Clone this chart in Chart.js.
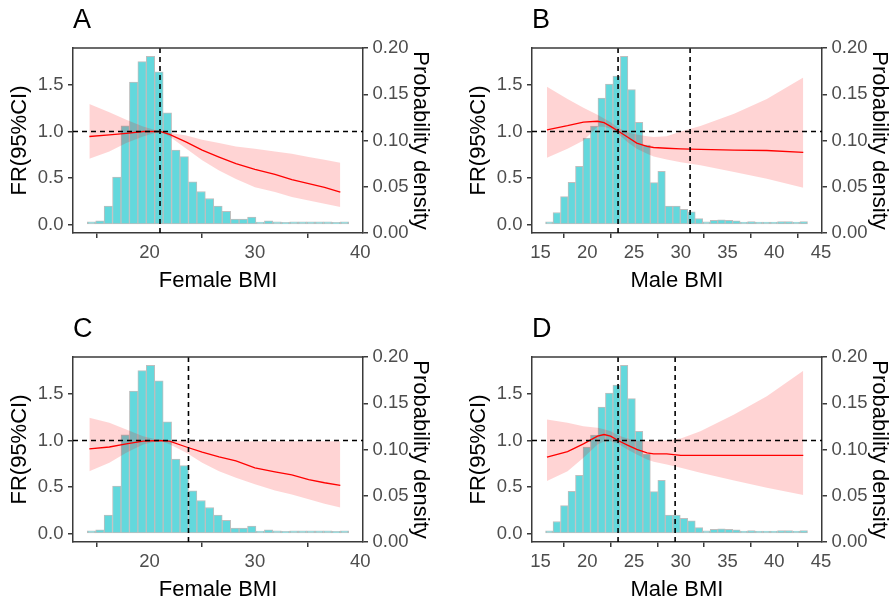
<!DOCTYPE html>
<html>
<head>
<meta charset="utf-8">
<script src="https://cdn.jsdelivr.net/npm/chart.js@4.4.1/dist/chart.umd.min.js"></script>
<style>
  html, body { margin: 0; padding: 0; background: #fff; overflow: hidden; }
  #wrap { position: relative; width: 890px; height: 603px; overflow: hidden; }
  canvas { position: absolute; }
</style>
</head>
<body>
<div id="wrap">
  <canvas id="panelA" width="445" height="300" style="left:0px;top:0px"></canvas>
  <canvas id="panelB" width="445" height="300" style="left:459px;top:0px"></canvas>
  <canvas id="panelC" width="445" height="300" style="left:0px;top:309px"></canvas>
  <canvas id="panelD" width="445" height="300" style="left:459px;top:309px"></canvas>
</div>
<script>
// histogram bins (bin centres) and bar heights read on the FR scale
var femaleBins = [14.5, 15.3, 16.1, 16.9, 17.7, 18.5, 19.3, 20.1, 20.9, 21.7, 22.5, 23.3, 24.1, 24.9, 25.7, 26.5,
                  27.3, 28.1, 28.9, 29.7, 30.5, 31.3, 32.1, 32.9, 33.7, 34.5, 35.3, 36.1, 36.9, 37.7, 38.5];
var femaleHist = [0.03, 0.04, 0.20, 0.51, 1.06, 1.53, 1.75, 1.806, 1.64, 1.20, 0.80, 0.73, 0.46, 0.355, 0.28, 0.20,
                  0.143, 0.06, 0.06, 0.082, 0.028, 0.04, 0.03, 0.025, 0.03, 0.03, 0.03, 0.03, 0.03, 0.025, 0.03];

var maleBins = [15.95, 16.75, 17.55, 18.35, 19.15, 19.95, 20.75, 21.55, 22.35, 23.15, 23.95, 24.75, 25.55, 26.35,
                27.15, 27.95, 28.75, 29.55, 30.35, 31.15, 31.95, 32.75, 33.55, 34.35, 35.15, 35.95, 36.75, 37.55,
                38.35, 39.15, 39.95, 40.75, 41.55, 42.35, 43.15];
var maleHist = [0.03, 0.13, 0.30, 0.455, 0.627, 0.93, 1.057, 1.36, 1.51, 1.595, 1.806, 1.45, 1.097, 0.853,
                0.45, 0.573, 0.20, 0.20, 0.165, 0.136, 0.064, 0.03, 0.045, 0.05, 0.045, 0.04, 0.028, 0.032,
                0.028, 0.028, 0.028, 0.032, 0.032, 0.028, 0.032];

// FR curves with 95% CI
var femaleX = [14.3, 16.2, 17.8, 19.4, 21.0, 21.9, 23.5, 25.0, 26.6, 28.2, 30.0, 31.9, 33.5, 35.1, 36.6, 38.1];
var frA = [0.946, 0.964, 0.98, 1.0, 1.0, 0.968, 0.886, 0.80, 0.725, 0.654, 0.593, 0.54, 0.482, 0.44, 0.40, 0.35];
var hiA = [1.296, 1.207, 1.125, 1.054, 1.0, 0.986, 0.957, 0.91, 0.875, 0.84, 0.814, 0.786, 0.76, 0.725, 0.696, 0.664];
var loA = [0.707, 0.786, 0.875, 0.946, 1.0, 0.946, 0.814, 0.69, 0.582, 0.49, 0.40, 0.35, 0.296, 0.26, 0.225, 0.19];

var frC = [0.91, 0.93, 0.964, 0.993, 1.0, 0.993, 0.93, 0.875, 0.825, 0.78, 0.707, 0.664, 0.63, 0.58, 0.546, 0.518];
var hiC = [1.243, 1.19, 1.118, 1.046, 1.0, 1.0, 0.996, 0.993, 0.993, 0.993, 0.993, 0.993, 0.993, 0.993, 0.993, 0.993];
var loC = [0.67, 0.76, 0.868, 0.957, 1.0, 0.96, 0.868, 0.76, 0.67, 0.60, 0.53, 0.464, 0.42, 0.368, 0.32, 0.28];

var maleX = [15.7, 17.9, 19.6, 21.1, 21.8, 22.5, 23.3, 24.3, 25.3, 26.4, 27.1, 28.5, 30.0, 32.1, 35.7, 39.2, 43.1];
var frB = [1.018, 1.062, 1.10, 1.11, 1.095, 1.055, 1.005, 0.94, 0.875, 0.84, 0.828, 0.82, 0.814, 0.807, 0.80, 0.796, 0.775];
var hiB = [1.48, 1.35, 1.254, 1.18, 1.14, 1.10, 1.04, 0.993, 0.968, 0.95, 0.94, 0.95, 1.0, 1.06, 1.19, 1.35, 1.58];
var loB = [0.718, 0.814, 0.904, 1.05, 1.05, 1.03, 0.975, 0.886, 0.814, 0.76, 0.732, 0.70, 0.67, 0.636, 0.564, 0.493, 0.396];

var frD = [0.82, 0.88, 0.964, 1.046, 1.064, 1.046, 1.0, 0.95, 0.904, 0.868, 0.857, 0.857, 0.84, 0.84, 0.84, 0.84, 0.84];
var hiD = [1.225, 1.19, 1.154, 1.136, 1.12, 1.10, 1.057, 1.02, 1.0, 0.993, 0.993, 1.0, 1.02, 1.10, 1.28, 1.475, 1.75];
var loD = [0.564, 0.67, 0.814, 0.957, 0.99, 0.993, 0.964, 0.904, 0.85, 0.796, 0.771, 0.743, 0.707, 0.654, 0.571, 0.493, 0.414];

// dashed reference lines
var refFR = 1.0;
var cutA = [21.0];
var cutB = [23.3, 31.0];
var cutC = [23.7];
var cutD = [23.3, 29.4];

var frMin = -0.0903, frMax = 1.8966;
var densMin = 0, densMax = 0.2;

var axisColor = '#3a3a3a';
var tickColor = '#4D4D4D';
var fontFamily = '"Liberation Sans", Arial, sans-serif';

function pts(xs, ys) {
  return xs.map(function (x, i) { return { x: x, y: ys[i] }; });
}

var topBorder = {
  id: 'topBorder',
  afterDraw: function (chart) {
    var a = chart.chartArea, ctx = chart.ctx;
    ctx.save();
    ctx.strokeStyle = axisColor;
    ctx.lineWidth = 1.5;
    ctx.beginPath();
    ctx.moveTo(a.left - 0.75, a.top);
    ctx.lineTo(a.right + 0.75, a.top);
    ctx.stroke();
    ctx.restore();
  }
};

function axisBase() {
  return {
    grid: { display: true, drawOnChartArea: false, drawTicks: true, tickLength: 5, color: axisColor, lineWidth: 1.5 },
    border: { display: true, color: axisColor, width: 1.5 }
  };
}

function makePanel(id, letter, xTitle, xMin, xMax, xStep, bins, hist, xs, fr, lo, hi, cuts) {
  var datasets = [];

  datasets.push({
    type: 'line', data: [{ x: xMin, y: refFR }, { x: xMax, y: refFR }],
    borderColor: '#000', borderWidth: 1.6, borderDash: [5, 4], pointRadius: 0, fill: false, order: 0
  });
  cuts.forEach(function (c) {
    datasets.push({
      type: 'line', data: [{ x: c, y: frMin }, { x: c, y: frMax }],
      borderColor: '#000', borderWidth: 1.6, borderDash: [5, 4], pointRadius: 0, fill: false, order: 1
    });
  });
  datasets.push({
    type: 'line', data: pts(xs, fr), borderColor: '#FF0000', borderWidth: 1.3,
    pointRadius: 0, fill: false, order: 2
  });
  datasets.push({
    type: 'line', data: pts(xs, hi), borderWidth: 0, borderColor: 'rgba(0,0,0,0)',
    backgroundColor: 'rgba(255,0,0,0.17)', pointRadius: 0, fill: '+1', order: 3
  });
  datasets.push({
    type: 'line', data: pts(xs, lo), borderWidth: 0, borderColor: 'rgba(0,0,0,0)',
    pointRadius: 0, fill: false, order: 4
  });
  datasets.push({
    type: 'bar', data: pts(bins, hist), backgroundColor: '#63D8DC', borderColor: '#BEBEBE',
    borderWidth: 1, borderSkipped: false, barPercentage: 1, categoryPercentage: 1, order: 5
  });

  var x = axisBase();
  x.type = 'linear';
  x.position = 'bottom';
  x.min = xMin; x.max = xMax; x.offset = false;
  x.afterFit = function (s) { s.height = 67; };
  x.ticks = { stepSize: xStep, includeBounds: false, padding: 4, color: tickColor, maxRotation: 0, autoSkip: false,
              font: { family: fontFamily, size: 18.5 } };
  x.title = { display: true, text: xTitle, color: '#000', font: { family: fontFamily, size: 22 },
              padding: { top: 0, bottom: 6.3 } };

  var y = axisBase();
  y.type = 'linear';
  y.position = 'left';
  y.min = frMin; y.max = frMax;
  y.afterFit = function (s) { s.width = 73; };
  y.ticks = { stepSize: 0.5, includeBounds: false, padding: 4.5, color: tickColor,
              font: { family: fontFamily, size: 18.5 },
              callback: function (v) { return v.toFixed(1); } };
  y.title = { display: true, text: 'FR(95%CI)', color: '#000', font: { family: fontFamily, size: 22 },
              padding: { top: 6.8, bottom: 0 } };

  var y2 = axisBase();
  y2.type = 'linear';
  y2.position = 'right';
  y2.min = densMin; y2.max = densMax;
  y2.afterFit = function (s) { s.width = 82; };
  y2.ticks = { stepSize: 0.05, padding: 4.5, color: tickColor,
               font: { family: fontFamily, size: 18.5 },
               callback: function (v) { return v.toFixed(2); } };
  y2.title = { display: true, text: 'Probability density', color: '#000', font: { family: fontFamily, size: 22 },
               padding: { top: 11.3, bottom: 0 } };

  return new Chart(document.getElementById(id), {
    type: 'bar',
    data: { datasets: datasets },
    options: {
      responsive: false,
      animation: false,
      devicePixelRatio: 1,
      layout: { padding: 0 },
      scales: { x: x, y: y, y2: y2 },
      plugins: {
        legend: { display: false },
        tooltip: { enabled: false },
        title: {
          display: true, text: letter, align: 'start', fullSize: false, color: '#000',
          font: { family: fontFamily, size: 27, weight: 'normal', lineHeight: 1.2 },
          padding: { top: 4.8, bottom: 10.8 }
        }
      }
    },
    plugins: [topBorder]
  });
}

makePanel('panelA', 'A', 'Female BMI', 12.75, 40.25, 10, femaleBins, femaleHist, femaleX, frA, loA, hiA, cutA);
makePanel('panelB', 'B', 'Male BMI', 14.1, 45.1, 5, maleBins, maleHist, maleX, frB, loB, hiB, cutB);
makePanel('panelC', 'C', 'Female BMI', 12.75, 40.25, 10, femaleBins, femaleHist, femaleX, frC, loC, hiC, cutC);
makePanel('panelD', 'D', 'Male BMI', 14.1, 45.1, 5, maleBins, maleHist, maleX, frD, loD, hiD, cutD);
</script>
</body>
</html>
